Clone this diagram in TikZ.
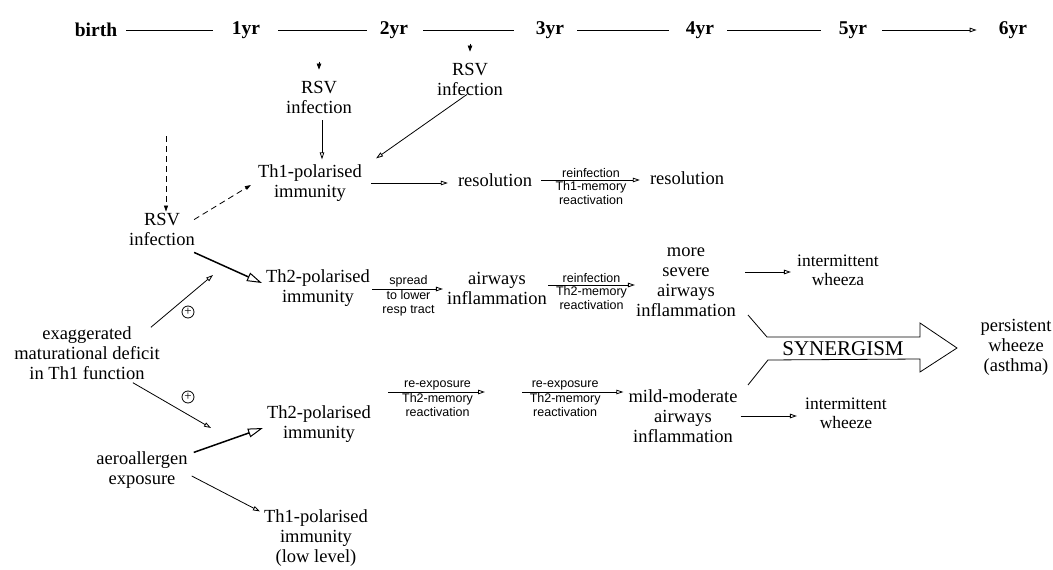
\documentclass[tikz,border=0pt]{standalone}
\usepackage{fontspec}
\setmainfont{Liberation Serif}
\newfontfamily\smallsans{Liberation Sans}
\usetikzlibrary{arrows.meta,calc}

\tikzset{
  lbl/.style={font=\fontsize{18.5}{20}\selectfont, align=center, inner sep=1pt},
  lblsm/.style={font=\fontsize{17.5}{19}\selectfont, align=center, inner sep=1pt},
  yr/.style={font=\fontsize{19.5}{22}\selectfont\bfseries, inner sep=0pt},
  sm/.style={font=\smallsans\fontsize{12.5}{13.5}\selectfont, align=center, inner sep=1.5pt},
  thin/.style={line width=0.8pt},
  arr/.style={thin, -{Triangle[open, length=7pt, width=4.5pt]}},
  bigarr/.style={line width=1.5pt, -{Triangle[open, length=15pt, width=9pt, line width=1pt]}},
  tiptri/.style={thin, -{Triangle[length=6pt, width=4.5pt]}},
  dasharr/.style={thin, dash pattern=on 6pt off 4pt, -{Triangle[length=6pt, width=4pt]}},
  plus/.style={circle, draw, line width=0.8pt, inner sep=0pt, minimum size=12pt,
    font=\fontsize{13}{13}\selectfont},
}

\begin{document}
\begin{tikzpicture}[x=1pt, y=-1pt]
\useasboundingbox (0,0) rectangle (1053,570);

% ---- time axis ----
\node[yr] (birth) at (96,30) {birth};
\node[yr] (y1) at (246,30) {1yr};
\node[yr] (y2) at (394,30) {2yr};
\node[yr] (y3) at (550,30) {3yr};
\node[yr] (y4) at (700,30) {4yr};
\node[yr] (y5) at (853,30) {5yr};
\node[yr] (y6) at (1013,30) {6yr};
\draw[thin, shorten <=9pt, shorten >=19pt] (birth.east) -- (y1.west);
\draw[thin, shorten <=18pt, shorten >=13pt] (y1.east) -- (y2.west);
\draw[thin, shorten <=15pt, shorten >=22pt] (y2.east) -- (y3.west);
\draw[thin, shorten <=13pt, shorten >=17pt] (y3.east) -- (y4.west);
\draw[thin, shorten <=13pt, shorten >=18pt] (y4.east) -- (y5.west);
\draw[arr, shorten <=15pt, shorten >=22pt] (y5.east) -- (y6.west);

% ---- RSV infections in the first years ----
\node[lbl] (rsv1) at (319,97) {RSV\\infection};
\node[lbl] (rsv2) at (470,79) {RSV\\infection};
\draw[tiptri] ([yshift=18pt]rsv1.north) -- ([yshift=10pt]rsv1.north);
\draw[tiptri] ([yshift=18pt]rsv2.north) -- ([yshift=10pt]rsv2.north);

% ---- Th1 branch ----
\node[lbl] (th1) at (310,183) {Th1-polarised\\immunity};
\node[lbl] (res1) at (495,180) {resolution};
\node[lbl] (res2) at (687,178) {resolution};
\draw[arr] ([xshift=3pt,yshift=-6pt]rsv1.south) -- ([xshift=3pt,yshift=4pt]rsv1.south |- th1.north);
\draw[arr] ([xshift=-3pt,yshift=2pt]rsv2.south) -- ([xshift=13pt,yshift=5pt]th1.north east);
\draw[arr, shorten <=8pt, shorten >=9pt] (th1.east) -- (th1.east -| res1.west);
\draw[arr, shorten <=8pt, shorten >=9pt] (res1.east) -- (res1.east -| res2.west)
  node[sm, midway, above] {reinfection}
  node[sm, midway, below] {Th1-memory\\reactivation};

% ---- early RSV infection ----
\node[lbl] (rsv0) at (162,229) {RSV\\infection};
\coordinate (rsvtop) at (166,136);
\draw[dasharr] (rsvtop) -- ([xshift=4pt]rsv0.north);
\draw[dasharr] ([xshift=-2pt,yshift=-8pt]rsv0.north east) -- ([xshift=-6pt,yshift=-2pt]th1.west);

% ---- Th2 branch after RSV ----
\node[lbl] (th2a) at (318,288) {Th2-polarised\\immunity};
\node[lbl] (aw1) at (497,288) {airways\\inflammation};
\node[lbl] (sev) at (686,282) {more\\severe\\airways\\inflammation};
\node[lblsm] (iw1) at (838,270) {intermittent\\wheeza};
\draw[bigarr] ([xshift=-2pt,yshift=-6pt]rsv0.south east) -- ([xshift=-3pt,yshift=5pt]th2a.west);
\draw[arr, shorten <=1pt, shorten >=3pt] ([yshift=-1pt]th2a.east) -- ([yshift=-1pt]th2a.east -| aw1.west)
  node[sm, midway, above] {spread}
  node[sm, midway, below] {to lower\\resp tract};
\draw[arr, shorten <=0pt, shorten >=0pt] ([yshift=3pt]aw1.east) -- ([yshift=3pt]aw1.east -| sev.west)
  node[sm, midway, above] {reinfection}
  node[sm, midway, below] {Th2-memory\\reactivation};
\draw[arr, shorten <=8pt, shorten >=5pt] ([yshift=-2pt]sev.east |- iw1) -- ([yshift=-2pt]iw1.west);

% ---- maturational deficit ----
\node[lbl] (def) at (87,353) {exaggerated\\maturational deficit\\in Th1 function};
\coordinate (up) at (213,275);
\coordinate (down) at (211,428);
\draw[arr] ([xshift=-10pt,yshift=-2pt]def.north east) -- (up);
\draw[arr] ([xshift=-28pt,yshift=-2pt]def.south east) -- (down);
\node[plus] (p1) at (188,312) {+};
\node[plus] (p2) at (188,397) {+};

% ---- aeroallergen branch ----
\node[lbl] (aero) at (142,470) {aeroallergen\\exposure};
\node[lbl] (th2b) at (319,424) {Th2-polarised\\immunity};
\node[lbl] (th1b) at (316,538) {Th1-polarised\\immunity\\(low level)};
\node[lbl] (mild) at (683,416) {mild-moderate\\airways\\inflammation};
\node[lblsm] (iw2) at (846,413) {intermittent\\wheeze};
\coordinate (gap) at (503,392);
\draw[bigarr] ([xshift=5pt,yshift=-2pt]aero.north east) -- ([xshift=-3pt,yshift=-4pt]th2b.west);
\draw[arr] ([xshift=3pt,yshift=-6pt]aero.east) -- ([xshift=-3pt,yshift=-3pt]th1b.north west);
\draw[arr, shorten <=16pt, shorten >=18pt] (th2b.east |- gap) -- (gap)
  node[sm, midway, above] {re-exposure}
  node[sm, midway, below] {Th2-memory\\reactivation};
\draw[arr, shorten <=19pt, shorten >=4pt] (gap) -- (gap -| mild.west)
  node[sm, midway, above] {re-exposure}
  node[sm, midway, below] {Th2-memory\\reactivation};
\draw[arr, shorten <=2pt, shorten >=7pt] (mild.east) -- (mild.east -| iw2.west);

% ---- synergism ----
\node[lbl] (pw) at (1016,347) {persistent\\wheeze\\(asthma)};
\node[font=\fontsize{21}{22}\selectfont, inner sep=0pt] (syn) at (843,349) {SYNERGISM};
\draw[thin, line join=miter]
  (748,315) -- (767,337) -- (920,337) -- (920,323) -- (957,348)
  -- (920,372) -- (920,359) -- (768,360) -- (748,385);

\end{tikzpicture}
\end{document}
